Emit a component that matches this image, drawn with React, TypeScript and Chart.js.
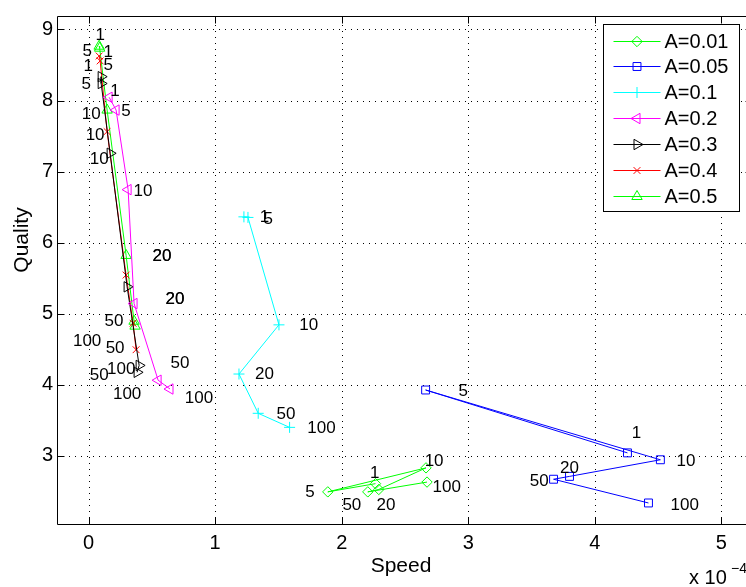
import React, { useEffect, useRef } from 'react';
import { Chart, registerables } from 'chart.js';

Chart.register(...registerables);

// ---------- data ----------
const PARAM_LABELS = ['1', '5', '10', '20', '50', '100'];
const SERIES_NAMES = ['A=0.01', 'A=0.05', 'A=0.1', 'A=0.2', 'A=0.3', 'A=0.4', 'A=0.5'];

const speedA001 = [2.267e-4, 1.89e-4, 2.666e-4, 2.293e-4, 2.206e-4, 2.674e-4];
const qualityA001 = [2.608, 2.492, 2.83, 2.526, 2.492, 2.63];
const speedA005 = [4.258e-4, 2.663e-4, 4.518e-4, 3.8e-4, 3.674e-4, 4.424e-4];
const qualityA005 = [3.041, 3.926, 2.944, 2.71, 2.67, 2.336];
const speedA01 = [1.227e-4, 1.259e-4, 1.504e-4, 1.188e-4, 1.34e-4, 1.588e-4];
const qualityA01 = [6.363, 6.355, 4.843, 4.151, 3.598, 3.4];
const speedA02 = [0.162e-4, 0.217e-4, 0.312e-4, 0.359e-4, 0.549e-4, 0.643e-4];
const qualityA02 = [8.046, 7.866, 6.746, 5.143, 4.064, 3.94];
const speedA03 = [0.099e-4, 0.099e-4, 0.17e-4, 0.304e-4, 0.399e-4, 0.383e-4];
const qualityA03 = [8.336, 8.24, 7.258, 5.378, 4.272, 4.175];
const speedA04 = [0.083e-4, 0.091e-4, 0.146e-4, 0.296e-4, 0.351e-4, 0.375e-4];
const qualityA04 = [8.627, 8.558, 7.562, 5.544, 4.866, 4.493];
const speedA05 = [0.083e-4, 0.087e-4, 0.146e-4, 0.296e-4, 0.359e-4, 0.367e-4];
const qualityA05 = [8.765, 8.737, 7.866, 5.82, 4.894, 4.825];

// anchor of each parameter annotation (data units)
const labSpeedA001 = [2.26e-4, 1.75e-4, 2.73e-4, 2.35e-4, 2.08e-4, 2.83e-4];
const labQualityA001 = [2.76, 2.49, 2.92, 2.31, 2.31, 2.56];
const labSpeedA005 = [4.33e-4, 2.96e-4, 4.72e-4, 3.8e-4, 3.56e-4, 4.71e-4];
const labQualityA005 = [3.32, 3.91, 2.92, 2.83, 2.64, 2.31];
const labSpeedA01 = [1.39e-4, 1.42e-4, 1.74e-4, 1.39e-4, 1.56e-4, 1.84e-4];
const labQualityA01 = [6.35, 6.33, 4.84, 4.15, 3.59, 3.39];
const labSpeedA02 = [0.209e-4, 0.296e-4, 0.43e-4, 0.683e-4, 0.722e-4, 0.872e-4];
const labQualityA02 = [8.129, 7.852, 6.719, 5.198, 4.299, 3.802];
const labSpeedA03 = [-0.004e-4, -0.02e-4, 0.083e-4, 0.58e-4, 0.083e-4, 0.257e-4];
const labQualityA03 = [8.488, 8.226, 7.175, 5.806, 4.133, 4.216];
const labSpeedA04 = [0.154e-4, 0.154e-4, 0.051e-4, 0.683e-4, 0.209e-4, 0.304e-4];
const labQualityA04 = [8.682, 8.502, 7.507, 5.198, 4.507, 3.871];
const labSpeedA05 = [0.091e-4, -0.012e-4, 0.02e-4, 0.58e-4, 0.201e-4, -0.012e-4];
const labQualityA05 = [8.917, 8.696, 7.811, 5.806, 4.894, 4.617];

const X_TICKS = [0, 1e-4, 2e-4, 3e-4, 4e-4, 5e-4];
const Y_TICKS = [3, 4, 5, 6, 7, 8, 9];
const X_MIN = -0.25e-4;
const X_MAX = 5.25e-4;
const Y_MIN = 2.04;
const Y_MAX = 9.19;

// ---------- styles ----------
const COLORS = ['#00ff00', '#0000ff', '#00ffff', '#ff00ff', '#000000', '#ff0000', '#00ff00'];
const MARKERS = ['rectRot', 'rect', 'cross', 'triangle', 'triangle', 'crossRot', 'triangle'];
const ROTATIONS = [0, 0, 0, -90, 90, 0, 0];
const RADII = [5.2, 5.6, 5.5, 6, 6, 4.8, 6];
const FONT = "'Liberation Sans', Arial, Helvetica, sans-serif";

const SERIES = [
  { sp: speedA001, q: qualityA001, ls: labSpeedA001, lq: labQualityA001 },
  { sp: speedA005, q: qualityA005, ls: labSpeedA005, lq: labQualityA005 },
  { sp: speedA01, q: qualityA01, ls: labSpeedA01, lq: labQualityA01 },
  { sp: speedA02, q: qualityA02, ls: labSpeedA02, lq: labQualityA02 },
  { sp: speedA03, q: qualityA03, ls: labSpeedA03, lq: labQualityA03 },
  { sp: speedA04, q: qualityA04, ls: labSpeedA04, lq: labQualityA04 },
  { sp: speedA05, q: qualityA05, ls: labSpeedA05, lq: labQualityA05 },
];

function drawMarker(ctx: CanvasRenderingContext2D, style: string, rot: number, x: number, y: number, r: number) {
  ctx.beginPath();
  if (style === 'rectRot') {
    ctx.moveTo(x, y - r); ctx.lineTo(x + r, y); ctx.lineTo(x, y + r); ctx.lineTo(x - r, y); ctx.closePath();
  } else if (style === 'rect') {
    const s = r * Math.SQRT1_2;
    ctx.rect(x - s, y - s, 2 * s, 2 * s);
  } else if (style === 'cross') {
    ctx.moveTo(x - r, y); ctx.lineTo(x + r, y); ctx.moveTo(x, y - r); ctx.lineTo(x, y + r);
  } else if (style === 'crossRot') {
    const d = r * Math.SQRT1_2;
    ctx.moveTo(x - d, y - d); ctx.lineTo(x + d, y + d); ctx.moveTo(x + d, y - d); ctx.lineTo(x - d, y + d);
  } else if (style === 'triangle') {
    let a = (rot * Math.PI) / 180;
    ctx.moveTo(x + Math.sin(a) * r, y - Math.cos(a) * r);
    a += (2 * Math.PI) / 3;
    ctx.lineTo(x + Math.sin(a) * r, y - Math.cos(a) * r);
    a += (2 * Math.PI) / 3;
    ctx.lineTo(x + Math.sin(a) * r, y - Math.cos(a) * r);
    ctx.closePath();
  }
  ctx.stroke();
}

const matlabPlugin = {
  id: 'matlabLook',
  beforeDatasetsDraw(chart: any) {
    const { ctx, chartArea: a, scales } = chart;
    const xs = scales.x, ys = scales.y;
    ctx.save();
    ctx.strokeStyle = '#000';
    ctx.lineWidth = 1;
    ctx.setLineDash([1, 5]);
    for (const v of X_TICKS) {
      const px = Math.round(xs.getPixelForValue(v)) + 0.5;
      ctx.beginPath(); ctx.moveTo(px, a.bottom); ctx.lineTo(px, a.top); ctx.stroke();
    }
    for (const v of Y_TICKS) {
      const py = Math.round(ys.getPixelForValue(v)) + 0.5;
      ctx.beginPath(); ctx.moveTo(a.left, py); ctx.lineTo(a.right, py); ctx.stroke();
    }
    ctx.restore();
  },
  afterDatasetsDraw(chart: any) {
    const { ctx, chartArea: a, scales } = chart;
    const xs = scales.x, ys = scales.y;
    ctx.save();
    // parameter annotations
    ctx.fillStyle = '#000';
    ctx.font = `17px ${FONT}`;
    ctx.textAlign = 'center';
    ctx.textBaseline = 'middle';
    SERIES.forEach((s) => {
      s.ls.forEach((lx, i) => {
        ctx.fillText(PARAM_LABELS[i], xs.getPixelForValue(lx), ys.getPixelForValue(s.lq[i]));
      });
    });
    // box
    ctx.strokeStyle = '#000';
    ctx.lineWidth = 1;
    const L = Math.round(a.left) + 0.5, R = Math.round(a.right) - 0.5;
    const T = Math.round(a.top) + 0.5, B = Math.round(a.bottom) + 0.5;
    ctx.beginPath();
    ctx.moveTo(L, T); ctx.lineTo(R, T); ctx.lineTo(R, B); ctx.lineTo(L, B); ctx.closePath();
    ctx.stroke();
    // inward ticks
    const tl = 7;
    for (const v of X_TICKS) {
      const px = Math.round(xs.getPixelForValue(v)) + 0.5;
      ctx.beginPath();
      ctx.moveTo(px, B); ctx.lineTo(px, B - tl);
      ctx.moveTo(px, T); ctx.lineTo(px, T + tl);
      ctx.stroke();
    }
    for (const v of Y_TICKS) {
      const py = Math.round(ys.getPixelForValue(v)) + 0.5;
      ctx.beginPath();
      ctx.moveTo(L, py); ctx.lineTo(L + tl, py);
      ctx.moveTo(R, py); ctx.lineTo(R - tl, py);
      ctx.stroke();
    }
    ctx.restore();
  },
  afterDraw(chart: any) {
    const { ctx, chartArea: a } = chart;
    ctx.save();
    // axis titles
    ctx.fillStyle = '#000';
    ctx.font = `21px ${FONT}`;
    ctx.textAlign = 'center';
    ctx.textBaseline = 'middle';
    ctx.fillText('Speed', 401, 566);
    ctx.save();
    ctx.translate(22, 240);
    ctx.rotate(-Math.PI / 2);
    ctx.fillText('Quality', 0, 0);
    ctx.restore();
    // exponent
    ctx.textAlign = 'left';
    ctx.textBaseline = 'alphabetic';
    ctx.font = `20px ${FONT}`;
    ctx.fillText('x 10', 689, 584);
    ctx.font = `14px ${FONT}`;
    ctx.fillText('\u22124', 731, 573);

    // legend
    const lw = 136, lh = 187;
    const lx = Math.round(a.right) - 150 + 0.5;
    const ly = Math.round(a.top) + 8 + 0.5;
    ctx.fillStyle = '#fff';
    ctx.fillRect(lx, ly, lw, lh);
    ctx.strokeStyle = '#000';
    ctx.lineWidth = 1;
    ctx.strokeRect(lx, ly, lw, lh);
    ctx.font = `20px ${FONT}`;
    ctx.textBaseline = 'middle';
    SERIES_NAMES.forEach((name, i) => {
      const cy = Math.round(ly + 16 + i * 25.9) + 0.5;
      ctx.strokeStyle = COLORS[i];
      ctx.lineWidth = 1;
      ctx.beginPath();
      ctx.moveTo(lx + 10, cy); ctx.lineTo(lx + 57, cy);
      ctx.stroke();
      drawMarker(ctx, MARKERS[i], ROTATIONS[i], lx + 33.5, cy, RADII[i]);
      ctx.fillStyle = '#000';
      ctx.fillText(name, lx + 61, cy + 1);
    });
    ctx.restore();
  },
};

export default function App() {
  const ref = useRef<HTMLCanvasElement | null>(null);
  useEffect(() => {
    if (!ref.current) return;
    const datasets = SERIES.map((s, i) => ({
      label: SERIES_NAMES[i],
      data: s.sp.map((v, j) => ({ x: v, y: s.q[j] })),
      showLine: true,
      borderColor: COLORS[i],
      borderWidth: 1,
      backgroundColor: 'rgba(0,0,0,0)',
      pointBackgroundColor: 'rgba(0,0,0,0)',
      pointBorderColor: COLORS[i],
      pointBorderWidth: 1,
      pointStyle: MARKERS[i],
      pointRotation: ROTATIONS[i],
      pointRadius: RADII[i],
      tension: 0,
      clip: false as any,
    }));
    const chart = new Chart(ref.current, {
      type: 'scatter',
      data: { datasets },
      options: {
        animation: false,
        responsive: false,
        maintainAspectRatio: false,
        events: [],
        layout: { padding: { top: 7, right: 6, left: 0, bottom: 0 } },
        plugins: { legend: { display: false }, tooltip: { enabled: false } },
        scales: {
          x: {
            type: 'linear',
            min: X_MIN,
            max: X_MAX,
            afterBuildTicks: (s: any) => { s.ticks = X_TICKS.map((v) => ({ value: v })); },
            afterFit: (s: any) => { s.height = 63; },
            grid: { display: false, drawTicks: false },
            border: { display: false },
            ticks: {
              color: '#000',
              font: { family: FONT, size: 20 },
              padding: 7,
              maxRotation: 0,
              autoSkip: false,
              callback: (v: any) => String(Math.round(Number(v) * 1e4)),
            },
          },
          y: {
            type: 'linear',
            min: Y_MIN,
            max: Y_MAX,
            afterBuildTicks: (s: any) => { s.ticks = Y_TICKS.map((v) => ({ value: v })); },
            afterFit: (s: any) => { s.width = 57; },
            grid: { display: false, drawTicks: false },
            border: { display: false },
            ticks: {
              color: '#000',
              font: { family: FONT, size: 20 },
              padding: 4,
              autoSkip: false,
              callback: (v: any) => String(v),
            },
          },
        },
      },
      plugins: [matlabPlugin],
    } as any);
    return () => chart.destroy();
  }, []);
  return (
    <div style={{ position: 'fixed', left: 0, top: 0, width: 746, height: 587, overflow: 'hidden', background: '#fff' }}>
      <canvas ref={ref} width={760} height={587} style={{ display: 'block', width: 760, height: 587 }} />
    </div>
  );
}
